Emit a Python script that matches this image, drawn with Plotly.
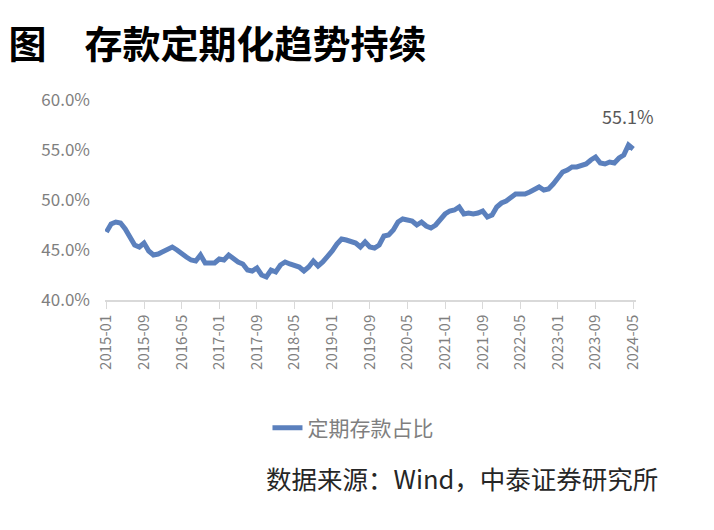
import plotly.graph_objects as go

start_year, start_month = 2015, 1
values = [
    46.8, 47.6, 47.8, 47.7, 47.1, 46.4, 45.5, 45.3, 45.7, 44.9,
    44.5, 44.6, 44.8, 45.1, 45.3, 45.0, 44.6, 44.3, 44.0, 43.9,
    44.5, 43.7, 43.7, 43.7, 44.1, 44.0, 44.5, 44.1, 43.8, 43.6,
    43.0, 42.9, 43.2, 42.5, 42.3, 43.0, 42.8, 43.5, 43.8, 43.6,
    43.4, 43.3, 42.9, 43.3, 43.9, 43.4, 43.8, 44.3, 44.9, 45.6,
    46.1, 46.0, 45.8, 45.7, 45.3, 45.8, 45.3, 45.2, 45.5, 46.4,
    46.5, 47.0, 47.8, 48.1, 48.0, 47.9, 47.5, 47.8, 47.4, 47.2,
    47.5, 48.0, 48.6, 48.9, 49.0, 49.3, 48.6, 48.7, 48.6, 48.7,
    48.9, 48.3, 48.5, 49.3, 49.7, 49.9, 50.3, 50.6, 50.6, 50.6,
    50.8, 51.1, 51.3, 51.0, 51.1, 51.6, 52.3, 52.8, 53.0, 53.3,
    53.3, 53.4, 53.6, 54.0, 54.3, 53.7, 53.6, 53.8, 53.7, 54.2,
    54.5, 55.5, 55.1,
]
months = []
for k in range(len(values)):
    y = start_year + (start_month - 1 + k) // 12
    m = (start_month - 1 + k) % 12 + 1
    months.append(f"{y}-{m:02d}")
tick_labels = months[::8]
y_ticks = [40, 45, 50, 55, 60]
series_name = "定期存款占比"
last_label = "55.1%"

font_cjk = "Noto Sans CJK SC"
gray = "#7f7f7f"

fig = go.Figure()
fig.add_trace(go.Scatter(
    x=months, y=values, mode="lines", name=series_name,
    line=dict(color="#5B80BD", width=5),
))
fig.add_annotation(x=months[-1], y=values[-1], text=last_label, showarrow=False,
                   yshift=33, xshift=-5, font=dict(size=18, color="#595959", family=font_cjk))

fig.update_layout(
    width=714, height=530,
    margin=dict(l=105, r=78, t=100, b=230),
    paper_bgcolor="white", plot_bgcolor="white",
    font=dict(family=font_cjk),
    title=dict(text="<b>图\u3000存款定期化趋势持续</b>", x=0.012, xanchor="left", y=0.915, yanchor="middle",
               font=dict(size=38, color="black", family=font_cjk)),
    showlegend=True,
    legend=dict(orientation="h", x=0.467, xanchor="center", y=-0.64, yanchor="middle",
                font=dict(size=21, color=gray, family=font_cjk)),
    xaxis=dict(type="category", range=[-0.3, 112.6], tickmode="array",
               tickvals=tick_labels, ticktext=tick_labels, tickangle=-90,
               tickfont=dict(size=15, color=gray, family=font_cjk),
               showline=True, linecolor="#d9d9d9", linewidth=1.5,
               ticks="outside", ticklen=7, tickcolor="#d9d9d9", showgrid=False),
    yaxis=dict(range=[40, 60], tickvals=y_ticks,
               ticktext=[f"{v:.1f}%" for v in y_ticks],
               tickfont=dict(size=17, color=gray, family=font_cjk),
               ticklabelstandoff=14,
               showgrid=False, zeroline=False, showline=False, ticks=""),
)
fig.add_annotation(text="数据来源：Wind，中泰证券研究所", xref="paper", yref="paper",
                   x=1.045, xanchor="right", y=-0.885, yanchor="middle", showarrow=False,
                   font=dict(size=25.5, color="#262626", family=font_cjk))
fig.write_html("out.html")
